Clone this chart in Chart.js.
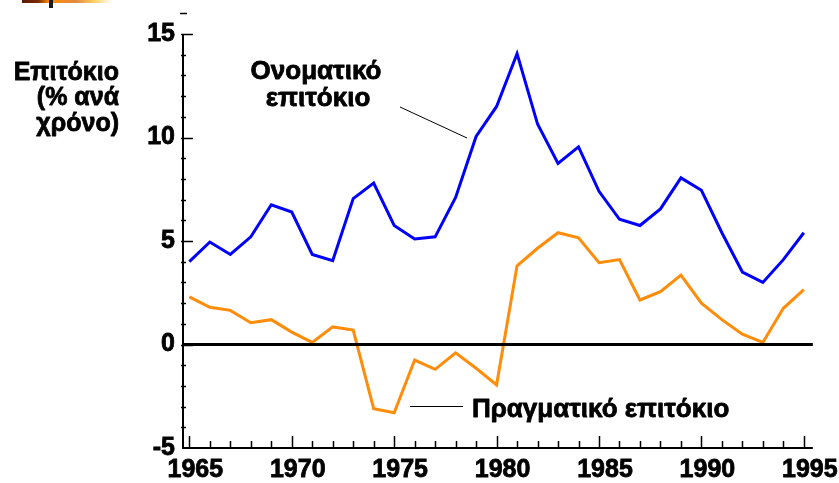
<!DOCTYPE html>
<html>
<head>
<meta charset="utf-8">
<script src="https://cdn.jsdelivr.net/npm/chart.js@4"></script>
<style>
  html, body { margin: 0; padding: 0; background: #fff; }
  #wrap { position: relative; width: 839px; height: 483px; }
  #deco { position: absolute; left: 22px; top: 0; width: 90px; height: 3px;
          background: linear-gradient(to right, #5a1a00 0%, #7a2a00 18%, #ff8c00 30%, #e08a40 60%, #ffd060 80%, rgba(255,240,200,0) 100%); }
  #deco2 { position: absolute; left: 49px; top: 0; width: 4px; height: 8px; background: #1a1a1a; }
</style>
</head>
<body>
<div id="wrap">
  <canvas id="c" width="839" height="483"></canvas>
  <div id="deco"></div>
  <div id="deco2"></div>
</div>
<script>
const years = [1965,1966,1967,1968,1969,1970,1971,1972,1973,1974,1975,1976,1977,1978,1979,1980,1981,1982,1983,1984,1985,1986,1987,1988,1989,1990,1991,1992,1993,1994,1995];
const nominalRate = [4.0,4.95,4.35,5.2,6.75,6.4,4.35,4.05,7.05,7.8,5.75,5.1,5.2,7.1,10.05,11.5,14.05,10.65,8.75,9.55,7.4,6.05,5.75,6.55,8.05,7.45,5.4,3.5,3.0,4.1,5.4];
const realRate = [2.3,1.8,1.65,1.05,1.2,0.6,0.1,0.85,0.7,-3.1,-3.3,-0.75,-1.2,-0.4,-1.15,-1.95,3.8,4.65,5.4,5.15,3.95,4.1,2.15,2.55,3.35,2.0,1.2,0.5,0.1,1.75,2.65];
const xTickLabels = [1965,1970,1975,1980,1985,1990,1995];
const yTickLabels = [-5,0,5,10,15];
const yTitleLines = ['Επιτόκιο','(% ανά','χρόνο)'];
const nominalLabel = ['Ονοματικό','επιτόκιο'];
const realLabel = 'Πραγματικό επιτόκιο';

const FONT = '"Liberation Sans", Arial, sans-serif';

function boldText(ctx, t, x, y) {
  ctx.fillText(t, x, y);
  ctx.strokeText(t, x, y);
}

const decorPlugin = {
  id: 'decor',
  afterDatasetsDraw(chart) {
    const ctx = chart.ctx;
    const xs = chart.scales.x, ys = chart.scales.y;
    const left = chart.chartArea.left, right = chart.chartArea.right;
    const top = ys.getPixelForValue(15), bottom = ys.getPixelForValue(-5);
    ctx.save();
    ctx.strokeStyle = '#000';
    ctx.lineCap = 'butt';
    // axes lines
    ctx.lineWidth = 2;
    ctx.beginPath();
    ctx.moveTo(left, top); ctx.lineTo(left, bottom + 1);
    ctx.moveTo(left - 1, bottom); ctx.lineTo(right, bottom);
    ctx.stroke();
    // y ticks
    ctx.lineWidth = 1.5;
    ctx.beginPath();
    for (let v = -4; v <= 15; v++) {
      const y = Math.round(ys.getPixelForValue(v)) + 0.5;
      const major = v % 5 === 0;
      ctx.moveTo(left - 2, y); ctx.lineTo(left + (major ? 10 : 3), y);
    }
    const y16 = Math.round(ys.getPixelForValue(16)) + 0.5;
    ctx.moveTo(left - 3, y16); ctx.lineTo(left + 4, y16);
    // x ticks
    for (let yr = years[0]; yr <= years[years.length - 1]; yr++) {
      const x = Math.round(xs.getPixelForValue(yr)) + 0.5;
      const major = yr % 5 === 0;
      ctx.moveTo(x, bottom); ctx.lineTo(x, bottom - (major ? 12 : 7));
    }
    ctx.stroke();
    // zero line
    ctx.lineWidth = 3;
    ctx.beginPath();
    const y0 = ys.getPixelForValue(0);
    ctx.moveTo(left, y0); ctx.lineTo(right, y0);
    ctx.stroke();

    // y axis title
    ctx.fillStyle = '#000';
    ctx.lineWidth = 0.8;
    ctx.lineJoin = 'round';
    ctx.font = 'bold 25px ' + FONT;
    ctx.textAlign = 'right';
    ctx.textBaseline = 'alphabetic';
    const base = [80, 105, 131];
    yTitleLines.forEach((t, i) => boldText(ctx, t, 119, base[i]));

    // nominal annotation
    ctx.font = 'bold 26px ' + FONT;
    ctx.textAlign = 'center';
    boldText(ctx, nominalLabel[0], 316, 79);
    boldText(ctx, nominalLabel[1], 318, 106);
    ctx.lineWidth = 1;
    ctx.beginPath();
    ctx.moveTo(400, 107); ctx.lineTo(467, 138);
    ctx.stroke();

    // real annotation
    ctx.lineWidth = 0.8;
    ctx.textAlign = 'left';
    boldText(ctx, realLabel, 472, 417);
    ctx.lineWidth = 1;
    ctx.beginPath();
    ctx.moveTo(410, 406.5); ctx.lineTo(463, 406.5);
    ctx.stroke();
    ctx.restore();
  }
};

new Chart(document.getElementById('c'), {
  type: 'line',
  data: {
    datasets: [
      { label: 'Ονοματικό επιτόκιο', data: years.map((y, i) => ({x: y, y: nominalRate[i]})),
        borderColor: '#0000ff', borderWidth: 3, pointRadius: 0, tension: 0, fill: false },
      { label: 'Πραγματικό επιτόκιο', data: years.map((y, i) => ({x: y, y: realRate[i]})),
        borderColor: '#ff8c0a', borderWidth: 3, pointRadius: 0, tension: 0, fill: false }
    ]
  },
  options: {
    responsive: false,
    animation: false,
    devicePixelRatio: 1,
    layout: { padding: { top: 34, right: 26, bottom: 0, left: 0 } },
    plugins: { legend: { display: false }, tooltip: { enabled: false } },
    scales: {
      x: {
        type: 'linear', min: 1964.69, max: 1995.44,
        grid: { display: false, drawTicks: false }, border: { display: false },
        afterBuildTicks: s => { s.ticks = xTickLabels.map(v => ({ value: v })); },
        afterFit: s => { s.height = 35; },
        ticks: { autoSkip: false, maxRotation: 0, padding: 7, labelOffset: 6, color: '#000',
                 textStrokeColor: '#000', textStrokeWidth: 0.8,
                 font: { family: FONT, weight: 'bold', size: 25 }, callback: v => String(v) }
      },
      y: {
        min: -5, max: 15,
        grid: { display: false, drawTicks: false }, border: { display: false },
        afterBuildTicks: s => { s.ticks = yTickLabels.map(v => ({ value: v })); },
        afterFit: s => { s.width = 183; },
        ticks: { padding: 8, color: '#000', textStrokeColor: '#000', textStrokeWidth: 0.8,
                 font: { family: FONT, weight: 'bold', size: 25 },
                 callback: v => String(v) }
      }
    }
  },
  plugins: [decorPlugin]
});
</script>
</body>
</html>
